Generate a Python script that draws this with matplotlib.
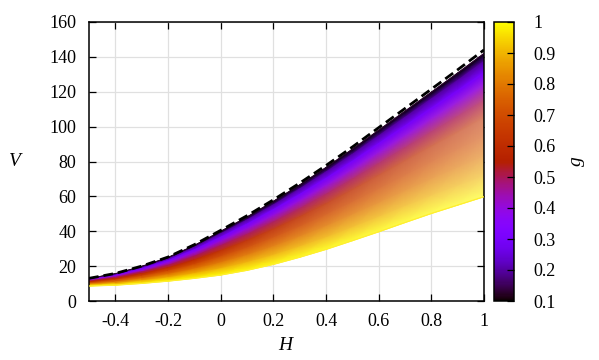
import numpy as np
import matplotlib
matplotlib.use("Agg")
import matplotlib.pyplot as plt
from matplotlib import cm, colors
from matplotlib.patches import Polygon

plt.rcParams['font.family'] = ['Liberation Serif', 'DejaVu Serif']
plt.rcParams['mathtext.fontset'] = 'custom'
plt.rcParams['mathtext.it'] = 'Liberation Serif:italic'

# ---------------- data ----------------
H = [-0.5, -0.4, -0.3, -0.2, -0.1, 0.0, 0.1, 0.2, 0.3, 0.4, 0.5, 0.6, 0.7, 0.8, 0.9, 1.0]
g_values = [0.1, 0.2, 0.3, 0.4, 0.5, 0.6, 0.7, 0.8, 0.9, 1.0]

V_g01 = [12.9, 15.6, 19.8, 24.9, 31.8, 39.9, 48.1, 57.1, 66.5, 76.5, 87.0, 97.9, 108.8, 119.7, 130.7, 141.9]
V_g02 = [12.6, 15.3, 19.2, 24.1, 30.8, 38.5, 46.4, 55.0, 64.2, 73.9, 84.0, 94.6, 105.2, 115.8, 126.4, 137.3]
V_g03 = [12.3, 14.8, 18.5, 23.1, 29.3, 36.5, 44.0, 52.3, 61.0, 70.2, 80.0, 90.2, 100.3, 110.5, 120.6, 131.0]
V_g04 = [11.9, 14.2, 17.6, 21.9, 27.7, 34.4, 41.4, 49.1, 57.4, 66.2, 75.4, 85.1, 94.7, 104.4, 114.0, 123.8]
V_g05 = [11.5, 13.5, 16.6, 20.4, 25.6, 31.7, 38.1, 45.2, 52.9, 61.1, 69.8, 78.8, 87.8, 96.9, 105.8, 115.0]
V_g06 = [11.0, 12.7, 15.5, 18.9, 23.4, 28.7, 34.5, 41.0, 48.1, 55.6, 63.6, 71.9, 80.3, 88.7, 96.9, 105.3]
V_g07 = [10.4, 11.9, 14.2, 17.1, 20.9, 25.4, 30.4, 36.2, 42.5, 49.3, 56.6, 64.2, 71.8, 79.4, 86.8, 94.3]
V_g08 = [9.8, 10.9, 12.8, 15.2, 18.3, 21.9, 26.2, 31.2, 36.8, 42.8, 49.4, 56.1, 63.0, 69.8, 76.3, 83.0]
V_g09 = [9.2, 10.0, 11.5, 13.3, 15.7, 18.5, 22.0, 26.2, 31.1, 36.3, 42.1, 48.1, 54.2, 60.2, 65.9, 71.6]
V_g10 = [8.6, 9.1, 10.1, 11.4, 13.0, 14.9, 17.6, 21.0, 25.1, 29.6, 34.6, 39.7, 45.0, 50.2, 55.0, 59.8]

V_limit = [13.0, 15.8, 20.0, 25.2, 32.3, 40.5, 48.9, 58.0, 67.6, 77.7, 88.3, 99.4, 110.4, 121.5, 132.6, 144.0]

curves = [V_g01, V_g02, V_g03, V_g04, V_g05, V_g06, V_g07, V_g08, V_g09, V_g10]

x_ticks = [-0.4, -0.2, 0, 0.2, 0.4, 0.6, 0.8, 1]
x_ticklabels = ['-0.4', '-0.2', '0', '0.2', '0.4', '0.6', '0.8', '1']
y_ticks = [0, 20, 40, 60, 80, 100, 120, 140, 160]
cb_ticks = [0.1, 0.2, 0.3, 0.4, 0.5, 0.6, 0.7, 0.8, 0.9, 1]
cb_ticklabels = ['0.1', '0.2', '0.3', '0.4', '0.5', '0.6', '0.7', '0.8', '0.9', '1']

# ---------------- figure ----------------
fig = plt.figure(figsize=(5.99, 3.60), dpi=100)
ax = fig.add_axes([89/599, 1-301/360, (484-89)/599, (301-22)/360])
cax = fig.add_axes([494/599, 1-301/360, 20/599, (301-22)/360])

cmap = plt.get_cmap('gnuplot')
norm = colors.Normalize(vmin=0.1, vmax=1.0)

# smooth colour sheet spanned by the g curves (colour = g)
Hn = np.asarray(H)
Xg, Gg = np.meshgrid(Hn, np.asarray(g_values))
Yg = np.asarray(curves)
ax.pcolormesh(Xg, Yg, Gg, cmap=cmap, norm=norm, shading='gouraud', zorder=2)

# light sheen (style only): the thin curves of the original leave white gaps
# where they spread apart toward large H and large g
nx, ny = 400, 400
hh = np.linspace(-0.5, 1.0, nx)
vv = np.linspace(0, 160, ny)
top = np.interp(hh, Hn, V_g01)
bot = np.interp(hh, Hn, V_g10)
HH, VV = np.meshgrid(hh, vv)
frac = (VV - bot[None, :]) / (top - bot)[None, :]
fy = np.clip((0.86 - frac) / 0.32, 0, 1)
fx = np.clip((hh + 0.15) / 1.15, 0, 1) ** 1.2 * 0.42
img = np.ones((ny, nx, 4))
img[:, :, 3] = fy * fx[None, :]
poly_xy = np.concatenate([np.column_stack([Hn, V_g01]),
                          np.column_stack([Hn[::-1], np.asarray(V_g10)[::-1]])])
clip = Polygon(poly_xy, closed=True, transform=ax.transData,
               facecolor='none', edgecolor='none')
ax.add_patch(clip)
im = ax.imshow(img, extent=[-0.5, 1.0, 0, 160], origin='lower', aspect='auto',
               zorder=2.5, interpolation='bilinear')
im.set_clip_path(clip)

ax.plot(H, V_g01, color=cmap(norm(0.13)), lw=0.8, zorder=3)
ax.plot(H, V_g10, color=(1.0, 0.93, 0.2), lw=0.9, zorder=3)
ax.plot(H, V_limit, color='black', lw=2.0, dashes=(3.5, 1.8), zorder=4)

ax.set_xlim(-0.5, 1.0)
ax.set_ylim(0, 160)
ax.set_xticks(x_ticks)
ax.set_xticklabels(x_ticklabels)
ax.set_yticks(y_ticks)
ax.grid(True, color='#e0e0e0', lw=0.9, zorder=0)
ax.set_axisbelow(True)
ax.tick_params(direction='in', length=5, width=0.9, top=True, right=True,
               labelsize=13, colors='black')
ax.tick_params(axis='y', pad=9)
ax.tick_params(axis='x', pad=9)
for s in ax.spines.values():
    s.set_linewidth(1.1)
ax.set_xlabel('$H$', fontsize=14, labelpad=5)
ax.set_ylabel('$V$', fontsize=14, rotation=0, labelpad=24, va='center')

sm = cm.ScalarMappable(norm=norm, cmap=cmap)
cb = fig.colorbar(sm, cax=cax, ticks=cb_ticks)
cb.ax.set_yticklabels(cb_ticklabels)
cb.ax.tick_params(direction='in', length=5, width=0.9, labelsize=13, pad=14)
cb.outline.set_linewidth(1.1)
cb.set_label('$g$', fontsize=14, rotation=90, labelpad=10)

fig.savefig('out.png', dpi=100)
